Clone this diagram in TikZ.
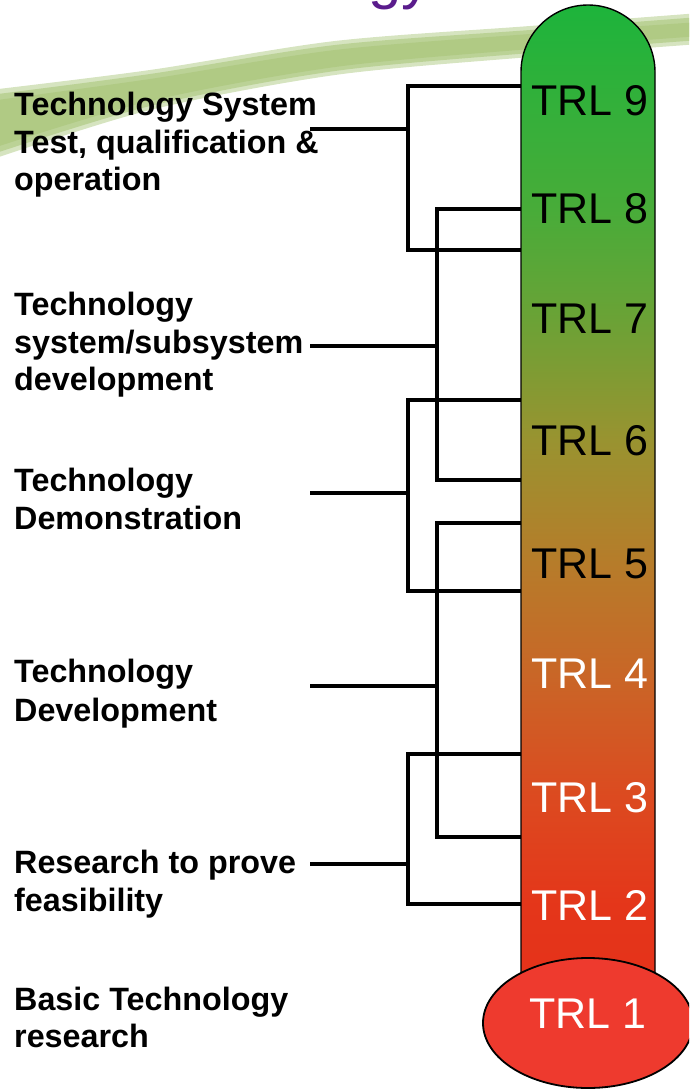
\documentclass[tikz,border=0pt]{standalone}
\usepackage{fontspec}
\setmainfont{Liberation Sans}
\usetikzlibrary{shapes.geometric}
\definecolor{swoosh}{RGB}{176,202,132}
\definecolor{swooshlight}{RGB}{214,228,192}
\definecolor{titlepurple}{RGB}{90,28,140}
\definecolor{bulbred}{RGB}{238,58,46}
\definecolor{cA}{RGB}{29,180,59}
\definecolor{cB}{RGB}{50,176,58}
\definecolor{cC}{RGB}{72,172,57}
\definecolor{cD}{RGB}{107,162,54}
\definecolor{cE}{RGB}{153,147,48}
\definecolor{cF}{RGB}{182,124,42}
\definecolor{cG}{RGB}{201,102,39}
\definecolor{cH}{RGB}{220,74,32}
\definecolor{cI}{RGB}{228,54,26}
\definecolor{cJ}{RGB}{229,49,26}
\pgfdeclareverticalshading{thermo}{100bp}{color(0bp)=(cJ); color(25bp)=(cJ); color(29.77bp)=(cI); color(35.2bp)=(cH); color(41.33bp)=(cG); color(46.96bp)=(cF); color(53.14bp)=(cE); color(59.17bp)=(cD); color(64.7bp)=(cC); color(70.23bp)=(cB); color(75bp)=(cA); color(100bp)=(cA)}
\begin{document}
\begin{tikzpicture}[x=1pt,y=-1pt,
  conn/.style={draw=black, line width=3.3pt, line join=miter},
  lbl/.style={anchor=base west, font=\bfseries\fontsize{32.3}{37}\selectfont, inner sep=0pt},
  trl/.style={anchor=base, font=\fontsize{43}{43}\selectfont, inner sep=0pt}]
\useasboundingbox (0,0) rectangle (689,1090);
\clip (0,0) rectangle (689,1090);
% background swoosh (soft edges)
\fill[swooshlight] plot[smooth] coordinates {(-10,90) (150,70) (335,41) (530,26) (700,13)}
  -- plot[smooth] coordinates {(700,44) (530,57) (335,75) (150,110) (-10,160)} -- cycle;
\fill[swoosh!70!swooshlight] plot[smooth] coordinates {(-10,95) (150,74) (335,45) (530,30) (700,17)}
  -- plot[smooth] coordinates {(700,40) (530,53) (335,71) (150,106) (-10,155)} -- cycle;
\fill[swoosh] plot[smooth] coordinates {(-10,101) (150,79) (335,50) (530,34) (700,22)}
  -- plot[smooth] coordinates {(700,36) (530,49) (335,67) (150,101) (-10,149)} -- cycle;
% title fragment
\node[anchor=base west, text=titlepurple, font=\fontsize{60}{60}\selectfont, inner sep=0pt] (title) at (368,-3) {gy};
% connector coordinates
\coordinate (tA1) at (521,86);  \coordinate (tA2) at (521,250); \coordinate (jA) at (408,129); \coordinate (sA) at (310,129);
\coordinate (tB1) at (521,209); \coordinate (tB2) at (521,480); \coordinate (jB) at (437,346); \coordinate (sB) at (310,346);
\coordinate (tC1) at (521,400); \coordinate (tC2) at (521,591); \coordinate (jC) at (408,493); \coordinate (sC) at (310,493);
\coordinate (tD1) at (521,523); \coordinate (tD2) at (521,837); \coordinate (jD) at (437,686); \coordinate (sD) at (310,686);
\coordinate (tE1) at (521,754); \coordinate (tE2) at (521,904); \coordinate (jE) at (408,864); \coordinate (sE) at (310,864);
\foreach \k in {A,B,C,D,E}{
  \draw[conn] (t\k1) -| (j\k) |- (t\k2);
  \draw[conn] (s\k) -- (j\k);
}
% thermometer tube
\shadedraw[shading=thermo, draw=black, line width=1.4pt]
  (521,1000) -- (521,72) .. controls (521,35) and (551,5) .. (588,5)
  .. controls (625,5) and (655,35) .. (655,72) -- (655,1000) -- cycle;
% bulb
\node[ellipse, draw=black, line width=1.8pt, fill=bulbred, minimum width=210pt, minimum height=130pt, inner sep=0pt] (bulb) at (588,1023) {};
% TRL labels
\node[trl] (trl9) at (590,115) {TRL 9};
\node[trl] (trl8) at (590,223) {TRL 8};
\node[trl] (trl7) at (590,333) {TRL 7};
\node[trl] (trl6) at (590,455) {TRL 6};
\node[trl] (trl5) at (590,578) {TRL 5};
\node[trl, text=white] (trl4) at (590,688) {TRL 4};
\node[trl, text=white] (trl3) at (590,812) {TRL 3};
\node[trl, text=white] (trl2) at (590,920) {TRL 2};
\node[trl, text=white] (trl1) at (588,1028) {TRL 1};
% stage labels
\node[lbl] (L9a) at (14,115) {Technology System};
\node[lbl] (L9b) at (14,153) {Test, qualification \&};
\node[lbl] (L9c) at (14,190) {operation};
\node[lbl] (L7a) at (14,315) {Technology};
\node[lbl] (L7b) at (14,353) {system/subsystem};
\node[lbl] (L7c) at (14,390) {development};
\node[lbl] (L6a) at (14,491) {Technology};
\node[lbl] (L6b) at (14,529) {Demonstration};
\node[lbl] (L4a) at (14,682) {Technology};
\node[lbl] (L4b) at (14,721) {Development};
\node[lbl] (L2a) at (14,873) {Research to prove};
\node[lbl] (L2b) at (14,911) {feasibility};
\node[lbl] (L1a) at (14,1010) {Basic Technology};
\node[lbl] (L1b) at (14,1047) {research};
\end{tikzpicture}
\end{document}
